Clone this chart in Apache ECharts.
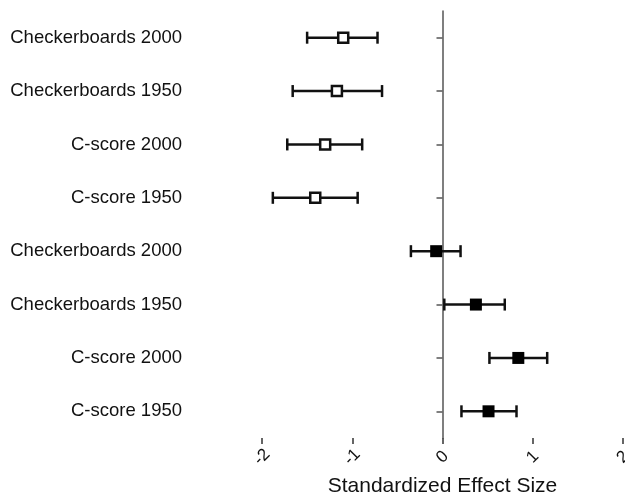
<!DOCTYPE html>
<html>
<head>
<meta charset="utf-8">
<script src="https://cdn.jsdelivr.net/npm/echarts@6/dist/echarts.min.js"></script>
<style>
html, body { margin: 0; padding: 0; background: #fff; }
#main { width: 625px; height: 500px; }
</style>
</head>
<body>
<div id="main"></div>
<script>
// rows, top to bottom
var labels = ['Checkerboards 2000', 'Checkerboards 1950', 'C-score 2000', 'C-score 1950',
              'Checkerboards 2000', 'Checkerboards 1950', 'C-score 2000', 'C-score 1950'];
var effect = [-1.10, -1.17, -1.30, -1.41, -0.07, 0.37, 0.84, 0.51];
var lower  = [-1.50, -1.66, -1.72, -1.88, -0.35, 0.02, 0.52, 0.21];
var upper  = [-0.72, -0.67, -0.89, -0.94, 0.20, 0.69, 1.16, 0.82];
var filled = [false, false, false, false, true, true, true, true];

var font = 'Liberation Sans, Arial, sans-serif';

var errData = [], openPts = [], fillPts = [];
for (var i = 0; i < labels.length; i++) {
    errData.push([lower[i], upper[i], i]);
    if (filled[i]) fillPts.push([effect[i], i]);
    else openPts.push([effect[i], i]);
}

var chart = echarts.init(document.getElementById('main'));

var option = {
    animation: false,
    backgroundColor: '#fff',
    grid: { left: 262, right: 2, top: 11, bottom: 62, outerBoundsMode: 'none' },
    xAxis: {
        type: 'value',
        min: -2, max: 2, interval: 1,
        name: 'Standardized Effect Size',
        nameLocation: 'middle',
        nameGap: 37,
        nameTextStyle: { fontFamily: font, fontSize: 21, color: '#111' },
        splitLine: { show: false },
        axisLine: { onZero: false, lineStyle: { color: '#333', width: 1.5 } },
        axisTick: { show: true, length: 6, lineStyle: { color: '#333', width: 1.5 } },
        axisLabel: {
            rotate: 45, margin: 19, align: 'center', verticalAlign: 'middle',
            fontFamily: font, fontSize: 17, color: '#111'
        }
    },
    yAxis: [{
        type: 'category',
        data: labels,
        inverse: true,
        position: 'left',
        axisLine: { show: false, onZero: false },
        axisTick: { show: false },
        splitLine: { show: false },
        axisLabel: { margin: 80, fontFamily: font, fontSize: 18.5, color: '#111' }
    }, {
        type: 'category',
        data: labels,
        inverse: true,
        position: 'left',
        axisLine: { show: true, onZero: true, lineStyle: { color: '#555', width: 1.5 } },
        axisTick: { show: true, alignWithLabel: true, length: 6, lineStyle: { color: '#555', width: 1.5 } },
        axisLabel: { show: false },
        splitLine: { show: false }
    }],
    series: [{
        type: 'custom',
        yAxisIndex: 0,
        z: 2,
        encode: { x: [0, 1], y: 2 },
        data: errData,
        renderItem: function (params, api) {
            var y = api.value(2);
            var lo = api.coord([api.value(0), y]);
            var hi = api.coord([api.value(1), y]);
            var h = 6;
            var st = { stroke: '#111', lineWidth: 2.5 };
            return {
                type: 'group',
                children: [
                    { type: 'line', shape: { x1: lo[0], y1: lo[1], x2: hi[0], y2: hi[1] }, style: st },
                    { type: 'line', shape: { x1: lo[0], y1: lo[1] - h, x2: lo[0], y2: lo[1] + h }, style: st },
                    { type: 'line', shape: { x1: hi[0], y1: hi[1] - h, x2: hi[0], y2: hi[1] + h }, style: st }
                ]
            };
        }
    }, {
        type: 'scatter',
        yAxisIndex: 0,
        z: 3,
        symbol: 'rect',
        symbolSize: 10,
        itemStyle: { color: '#fff', borderColor: '#111', borderWidth: 2.5, opacity: 1 },
        data: openPts
    }, {
        type: 'scatter',
        yAxisIndex: 0,
        z: 3,
        symbol: 'rect',
        symbolSize: 12,
        itemStyle: { color: '#000', opacity: 1 },
        data: fillPts
    }]
};

chart.setOption(option);
</script>
</body>
</html>
